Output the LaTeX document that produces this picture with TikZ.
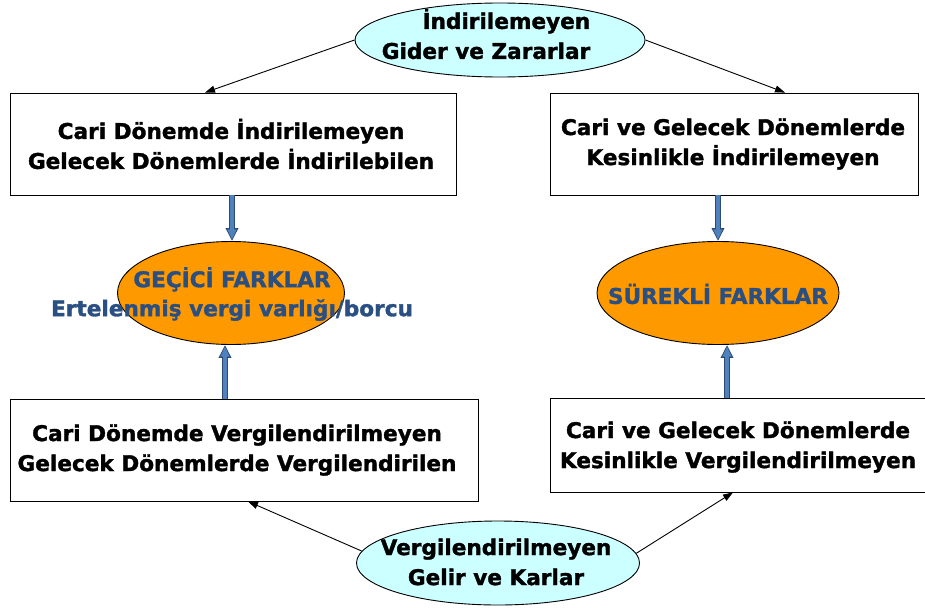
\documentclass[tikz,border=0pt]{standalone}
\usepackage{fontspec}
\setmainfont{DejaVu Sans}[BoldFeatures={FakeBold=1.5}]
\usetikzlibrary{shapes.geometric,arrows.meta,calc}
\definecolor{cyanfill}{HTML}{CCFFFF}
\definecolor{orangefill}{HTML}{FF9900}
\definecolor{darkbluetext}{HTML}{2A4F82}
\definecolor{arrowblue}{HTML}{4F81BD}
\definecolor{arrowedge}{HTML}{2C4A74}
\tikzset{
  x=1pt, y=-1pt,
  boxstyle/.style={draw=black, line width=0.9pt, fill=white, inner sep=0pt},
  cyanell/.style={ellipse, draw=black, line width=0.9pt, fill=cyanfill, inner sep=0pt},
  orangeell/.style={ellipse, draw=black, line width=0.9pt, fill=orangefill, inner sep=0pt},
  blacktext/.style={font=\fontsize{21.6}{30}\selectfont\bfseries, align=center, text=black},
  bluetext/.style={font=\fontsize{21.6}{29}\selectfont\bfseries, align=center, text=darkbluetext},
  thinarrow/.style={draw=black, line width=0.9pt, -{Triangle[length=10pt,width=7pt]}},
  fatarrowout/.style={draw=arrowedge, line width=6.5pt, -{Triangle[length=13pt,width=12pt]}},
  fatarrowin/.style={draw=arrowblue, line width=4pt, shorten >=1.6pt, -{Triangle[length=10pt,width=8.5pt]}},
}
\begin{document}
\begin{tikzpicture}
\useasboundingbox (0,0) rectangle (925,607);
% boxes
\node[boxstyle, minimum width=446pt, minimum height=102pt] (b1) at (233,144) {};
\node[boxstyle, minimum width=368pt, minimum height=102pt] (b2) at (734,144) {};
\node[boxstyle, minimum width=468pt, minimum height=102pt] (b3) at (244,450) {};
\node[boxstyle, minimum width=377pt, minimum height=94pt] (b4) at (739,445) {};
% ellipses
\node[cyanell, minimum width=290pt, minimum height=74pt] (e1) at (500,40) {};
\node[cyanell, minimum width=283pt, minimum height=84pt] (e2) at (498,563) {};
\node[orangeell, minimum width=227pt, minimum height=103pt] (o1) at (231,293) {};
\node[orangeell, minimum width=242pt, minimum height=103pt] (o2) at (718,293) {};
% texts
\node[blacktext] (t1) at (231,144) {Cari Dönemde İndirilemeyen\\Gelecek Dönemlerde İndirilebilen};
\node[blacktext] (t2) at (733,144) {Cari ve Gelecek Dönemlerde\\Kesinlikle İndirilemeyen};
\node[blacktext] (t3) at (237,450) {Cari Dönemde Vergilendirilmeyen\\Gelecek Dönemlerde Vergilendirilen};
\node[blacktext] (t4) at (738,447) {Cari ve Gelecek Dönemlerde\\Kesinlikle Vergilendirilmeyen};
\node[blacktext, align=right] (t5) at (486,34) {İndirilemeyen\\Gider ve Zararlar};
\node[blacktext] (t6) at (496,562) {Vergilendirilmeyen\\Gelir ve Karlar};
\node[bluetext] (t7) at (232,294) {GEÇİCİ FARKLAR\\Ertelenmiş vergi varlığı/borcu};
\node[bluetext] (t8) at (718,294) {SÜREKLİ FARKLAR};
% thin arrows
\draw[thinarrow] (e1.west) -- ($(b1.north)+(-28,0)$);
\draw[thinarrow] (e1.east) -- ($(b2.north)+(51,0)$);
\draw[thinarrow] (e2.175) -- ($(b3.south)+(4,0)$);
\draw[thinarrow] (e2.4) -- ($(b4.south)+(-6,0)$);
% fat blue arrows
\draw[fatarrowout] ($(b1.south)+(-1,0)$) -- ($(o1.north)+(1,0)$);
\draw[fatarrowin] ($(b1.south)+(-1,0)$) -- ($(o1.north)+(1,0)$);
\draw[fatarrowout] ($(b3.north)+(-19,0)$) -- ($(o1.south)+(-6,0)$);
\draw[fatarrowin] ($(b3.north)+(-19,0)$) -- ($(o1.south)+(-6,0)$);
\draw[fatarrowout] ($(b2.south)+(-16,0)$) -- (o2.north);
\draw[fatarrowin] ($(b2.south)+(-16,0)$) -- (o2.north);
\draw[fatarrowout] ($(b4.north)+(-12,0)$) -- ($(o2.south)+(9,0)$);
\draw[fatarrowin] ($(b4.north)+(-12,0)$) -- ($(o2.south)+(9,0)$);
\end{tikzpicture}
\end{document}
